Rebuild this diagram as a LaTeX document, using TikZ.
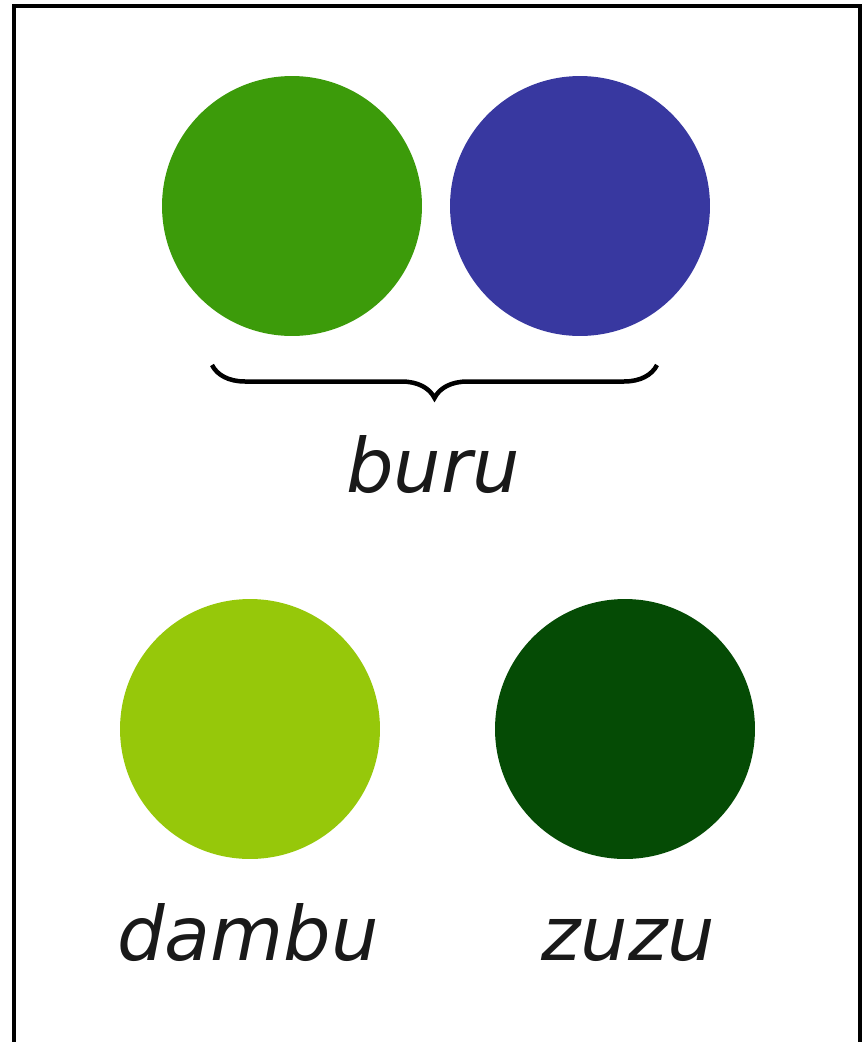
\documentclass[tikz,border=0pt]{standalone}
\usepackage{fontspec}
\usepackage{tikz}
\usetikzlibrary{positioning,calc}
\usetikzlibrary{decorations.pathreplacing}
\newfontfamily\wordfont{DejaVu Sans}
\definecolor{BuruGreen}{RGB}{60,155,10}
\definecolor{BuruBlue}{RGB}{56,56,160}
\definecolor{DambuGreen}{RGB}{150,200,10}
\definecolor{ZuzuGreen}{RGB}{5,75,5}
\tikzset{
	dot/.style={circle,draw=none,inner sep=0pt,minimum size=5.2cm},
	word/.style={font=\wordfont\itshape\fontsize{42.7}{50}\selectfont,anchor=base,inner sep=0pt,text=black!90},
	frame/.style={draw=black,line width=0.08cm},
	brc/.style={draw=black,line width=0.09cm,decorate,
		decoration={brace,mirror,amplitude=0.66cm,aspect=0.5}},
}
\begin{document}
\begin{tikzpicture}[x=0.02cm,y=-0.02cm]
	\useasboundingbox (0,0) rectangle (862,1042);
	\draw[frame] (14,1042) -- (14,6) -- (860,6) -- (860,1042);
	% top pair
	\node[dot,fill=BuruGreen] (g) at (292,206) {};
	\node[dot,fill=BuruBlue] (b) at (580,206) {};
	\coordinate (braceL) at (212,365);
	\coordinate (braceR) at (657,365);
	\draw[brc] (braceL) -- (braceR);
	\node[word] (buru) at (433,492) {buru};
	% bottom pair
	\node[dot,fill=DambuGreen] (d) at (250,729) {};
	\node[dot,fill=ZuzuGreen] (z) at (625,729) {};
	\node[word] (dambu) at (248,960) {dambu};
	\node[word] (zuzu) at (628,960) {zuzu};
\end{tikzpicture}
\end{document}
